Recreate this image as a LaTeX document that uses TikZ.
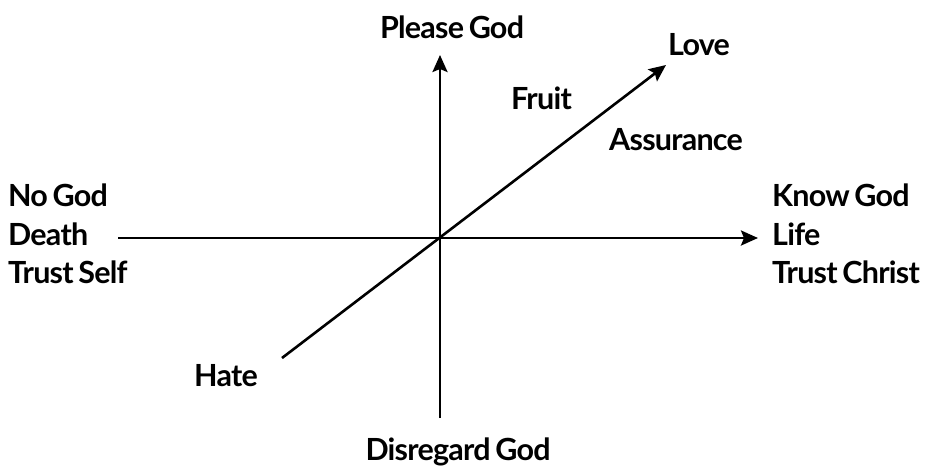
\documentclass[tikz,border=0pt]{standalone}
\usepackage{fontspec}
\setmainfont{Lato}[LetterSpace=-2.5, WordSpace=0.7]
\usetikzlibrary{arrows.meta}

\begin{document}
\begin{tikzpicture}[
  x=1pt,
  y=-1pt,
  font=\fontsize{30.5}{38.5}\selectfont\bfseries,
  lbl/.style={inner sep=0pt, align=left},
  axis/.style={line width=2.6pt, -{Stealth[length=17pt, width=15pt, inset=3pt]}}
]
  \useasboundingbox (0,0) rectangle (930,467);

  % axes
  \coordinate (origin) at (440,238);
  \coordinate (west) at (118,238);
  \coordinate (east) at (758,238);
  \coordinate (south) at (440,418);
  \coordinate (north) at (440,55);
  \coordinate (hateend) at (282,358);
  \coordinate (loveend) at (666,65);

  \draw[axis] (west) -- (east);
  \draw[axis] (south) -- (north);
  \draw[axis] (hateend) -- (loveend);

  % labels
  \node[lbl] (please) at (452,27) {Please God};
  \node[lbl, anchor=west] (love) at (668,45) {Love};
  \node[lbl, anchor=west] (fruit) at (511,98) {Fruit};
  \node[lbl, anchor=west] (assure) at (609,140) {Assurance};
  \node[lbl, anchor=west] (left) at (8,234) {No God\\Death\\Trust Self};
  \node[lbl, anchor=west] (right) at (772,234) {Know God\\Life\\Trust Christ};
  \node[lbl, anchor=west] (hate) at (194,376) {Hate};
  \node[lbl] (disregard) at (458,452) {Disregard God};
\end{tikzpicture}
\end{document}
